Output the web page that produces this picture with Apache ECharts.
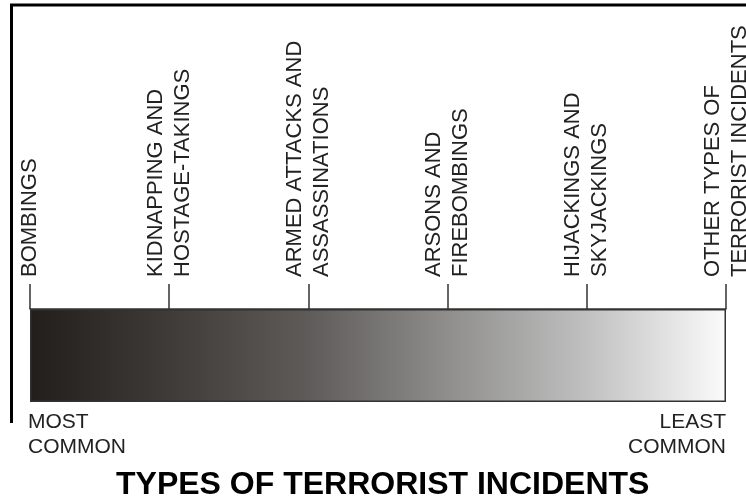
<!DOCTYPE html>
<html>
<head>
<meta charset="utf-8">
<script src="https://cdn.jsdelivr.net/npm/echarts@6/dist/echarts.min.js"></script>
<style>
  html, body { margin: 0; padding: 0; background: #ffffff; }
  #chart { width: 746px; height: 498px; }
</style>
</head>
<body>
<div id="chart"></div>
<script>
// ---- data ----
const incidentTypes = [
  'BOMBINGS',
  'KIDNAPPING AND\nHOSTAGE-TAKINGS',
  'ARMED ATTACKS AND\nASSASSINATIONS',
  'ARSONS AND\nFIREBOMBINGS',
  'HIJACKINGS AND\nSKYJACKINGS',
  'OTHER TYPES OF\nTERRORIST INCIDENTS'
];
const frequencyRank = [0, 1, 2, 3, 4, 5];   // 0 = most common ... 5 = least common
const scaleEndLabels = ['MOST\nCOMMON', 'LEAST\nCOMMON'];
const chartTitle = 'TYPES OF TERRORIST INCIDENTS';
const scaleSpan = [frequencyRank[frequencyRank.length - 1]];

const FONT = '"Liberation Sans", Arial, Helvetica, sans-serif';
const chart = echarts.init(document.getElementById('chart'), null, { renderer: 'canvas' });

const option = {
  backgroundColor: '#ffffff',
  animation: false,
  title: {
    text: chartTitle,
    left: 116,
    top: 469,
    padding: 0,
    textStyle: { fontFamily: FONT, fontSize: 32, fontWeight: 'bold', color: '#000000' }
  },
  grid: { left: 30, right: 20, top: 309, bottom: 96, containLabel: false, outerBoundsMode: 'none' },
  xAxis: {
    type: 'value',
    position: 'top',
    min: frequencyRank[0],
    max: frequencyRank[frequencyRank.length - 1],
    interval: 1,
    splitLine: { show: false },
    axisLine: { show: true, lineStyle: { color: '#333333', width: 1.5 } },
    axisTick: { show: true, inside: false, length: 25, lineStyle: { color: '#333333', width: 1.5 } },
    axisLabel: {
      show: true,
      rotate: -90,
      margin: 32,
      showMinLabel: true,
      showMaxLabel: true,
      hideOverlap: false,
      fontFamily: FONT,
      fontSize: 22,
      lineHeight: 27,
      color: '#222222',
      formatter: function (v) { return incidentTypes[frequencyRank.indexOf(v)] || ''; }
    }
  },
  yAxis: { type: 'category', data: ['scale'], show: false },
  series: [{
    type: 'bar',
    data: scaleSpan,
    barWidth: '100%',
    silent: true,
    itemStyle: {
      borderColor: '#333333',
      borderWidth: 1.5,
      color: new echarts.graphic.LinearGradient(0, 0, 1, 0, [
        { offset: 0.0, color: '#221e1b' },
        { offset: 0.2, color: '#3f3b38' },
        { offset: 0.4, color: '#5e5b59' },
        { offset: 0.6, color: '#8f8e8d' },
        { offset: 0.8, color: '#c0c0c0' },
        { offset: 1.0, color: '#fbfbfb' }
      ])
    }
  }],
  graphic: [
    {
      type: 'polyline',
      silent: true,
      shape: { points: [[11.5, 423], [11.5, 5], [746, 5]] },
      style: { stroke: '#000000', lineWidth: 3, fill: null }
    },
    {
      type: 'text',
      x: 28,
      y: 410,
      silent: true,
      style: { text: scaleEndLabels[0], fontFamily: FONT, fontSize: 21, lineHeight: 25, fill: '#222222', align: 'left', verticalAlign: 'top' }
    },
    {
      type: 'text',
      x: 726,
      y: 410,
      silent: true,
      style: { text: scaleEndLabels[1], fontFamily: FONT, fontSize: 21, lineHeight: 25, fill: '#222222', align: 'right', verticalAlign: 'top' }
    }
  ]
};
chart.setOption(option);
</script>
</body>
</html>
